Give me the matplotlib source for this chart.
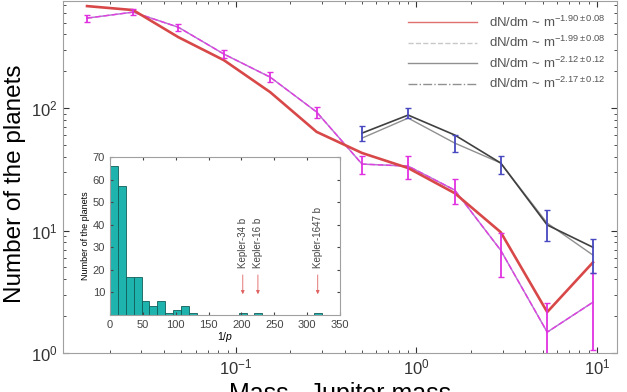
import matplotlib
matplotlib.use("Agg")
import matplotlib.pyplot as plt
from matplotlib.lines import Line2D

plt.rcParams['font.family'] = ['Liberation Sans', 'DejaVu Sans']
plt.rcParams['mathtext.fontset'] = 'custom'
plt.rcParams['mathtext.rm'] = 'Liberation Sans'
plt.rcParams['mathtext.it'] = 'Liberation Sans:italic'

# mass bins (Jupiter masses)
mass = [0.015, 0.027, 0.048, 0.086, 0.155, 0.28, 0.5, 0.9, 1.63, 2.93, 5.3, 9.5]

# red model curve
red_n = [681, 632, 380, 246, 135, 64, 43, 32.4, 20.2, 9.7, 2.16, 5.5]

# magenta data with error bars
mag_n = [543, 608, 458, 276, 179, 93, 34.9, 33.6, 21.4, 6.9, 1.48, 2.6]
mag_err_lo = [35, 35, 30, 20, 17, 10, 6, 7, 5, 2.7, 1.47, 1.54]
mag_err_hi = [35, 35, 30, 20, 17, 10, 6, 7, 5, 2.7, 1.1, 1.9]

# high mass sample
hi_mass = [0.5, 0.9, 1.63, 2.93, 5.3, 9.5]
dark_n = [62.5, 87.7, 60.3, 35.6, 11.1, 7.3]
gray_n = [56.9, 82.9, 51.8, 35.6, 11.5, 6.3]
blue_n = [63, 92, 52, 35, 11.5, 6.5]
blue_err = [9, 9, 8, 6, 3.3, 2]

legend_labels = [r'dN/dm ~ m$^{-1.90\pm0.08}$', r'dN/dm ~ m$^{-1.99\pm0.08}$',
                 r'dN/dm ~ m$^{-2.12\pm0.12}$', r'dN/dm ~ m$^{-2.17\pm0.12}$']

# inset histogram
bin_left = [0, 12, 24, 36, 48, 60, 72, 84, 96, 108, 120]
bin_count = [66, 57, 17, 17, 6, 4, 6, 1, 2, 4, 1]
kepler_x = [202, 225, 316]
kepler_n = [1, 1, 1]
kepler_names = ['Kepler-34 b', 'Kepler-16 b', 'Kepler-1647 b']

fig = plt.figure(figsize=(6.27, 3.92), dpi=100)
ax = fig.add_axes([0.100, 0.0995, 0.884, 0.8975])

ax.plot(mass, red_n, color='#d84848', lw=1.9, zorder=3)
ax.plot(mass, mag_n, color='#b878d0', lw=1.1, zorder=2)
ax.plot(mass, mag_n, color='#e040e0', lw=1.0, ls=(0, (4, 2)), zorder=2)
ax.errorbar(mass, mag_n, yerr=[mag_err_lo, mag_err_hi], fmt='none',
            ecolor='#e030e0', elinewidth=1.3, capsize=2.5, zorder=4)
ax.plot(hi_mass, gray_n, color='#909090', lw=1.0, zorder=2)
ax.plot(hi_mass, dark_n, color='#404040', lw=1.2, zorder=2)
ax.errorbar(hi_mass, blue_n, yerr=blue_err, fmt='none',
            ecolor='#4848c0', elinewidth=1.3, capsize=2.5, zorder=4)

ax.set_xscale('log')
ax.set_yscale('log')
ax.set_xlim(0.011, 12.9)
ax.set_ylim(1, 747)
ax.tick_params(which='both', direction='in', top=True, right=True,
               labelsize=12, colors='#333333')
ax.tick_params(which='major', length=4)
ax.tick_params(which='minor', length=2)
for s in ax.spines.values():
    s.set_color('#a0a0a0')
ax.set_ylabel('Number of the planets', fontsize=17.5)
ax.set_xlabel('Mass , Jupiter mass', fontsize=18, labelpad=3)
ax.yaxis.set_label_coords(-0.067, 0.48)

handles = [Line2D([], [], color='#e07070', lw=1),
           Line2D([], [], color='#c8c8c8', lw=1, ls='--'),
           Line2D([], [], color='#909090', lw=1),
           Line2D([], [], color='#909090', lw=1, ls='-.')]
ax.legend(handles, legend_labels, loc='upper right', frameon=False,
          fontsize=9.5, handlelength=5.2, handletextpad=0.9,
          labelspacing=0.4, bbox_to_anchor=(1.0, 0.995),
          labelcolor='#555555')

# inset
ins = fig.add_axes([0.1754, 0.1964, 0.367, 0.403])
ins.bar(bin_left, bin_count, width=12, align='edge', color='#1fb3ae',
        edgecolor='#115e5a', lw=0.6)
ins.bar(kepler_x, kepler_n, width=12, color='#1fb3ae',
        edgecolor='#115e5a', lw=0.6)
for x, name in zip(kepler_x, kepler_names):
    ins.annotate('', xy=(x, 8), xytext=(x, 19),
                 arrowprops=dict(arrowstyle='-|>', color='#e06060',
                                 lw=0.6, mutation_scale=5))
    ins.text(x, 21, name, rotation=90, ha='center', va='bottom',
             fontsize=7, color='#444444')
ins.set_xlim(0, 350)
ins.set_ylim(0, 70)
ins.set_xticks(range(0, 351, 50))
ins.set_yticks(range(10, 71, 10))
ins.tick_params(direction='in', top=True, right=True, labelsize=8,
                colors='#444444', length=2)
for s in ins.spines.values():
    s.set_color('#a0a0a0')
ins.set_ylabel('Number of the planets', fontsize=6.5, labelpad=2)
ins.set_xlabel('1/$p$', fontsize=7.5, labelpad=0)

fig.savefig('out.png', dpi=100)
